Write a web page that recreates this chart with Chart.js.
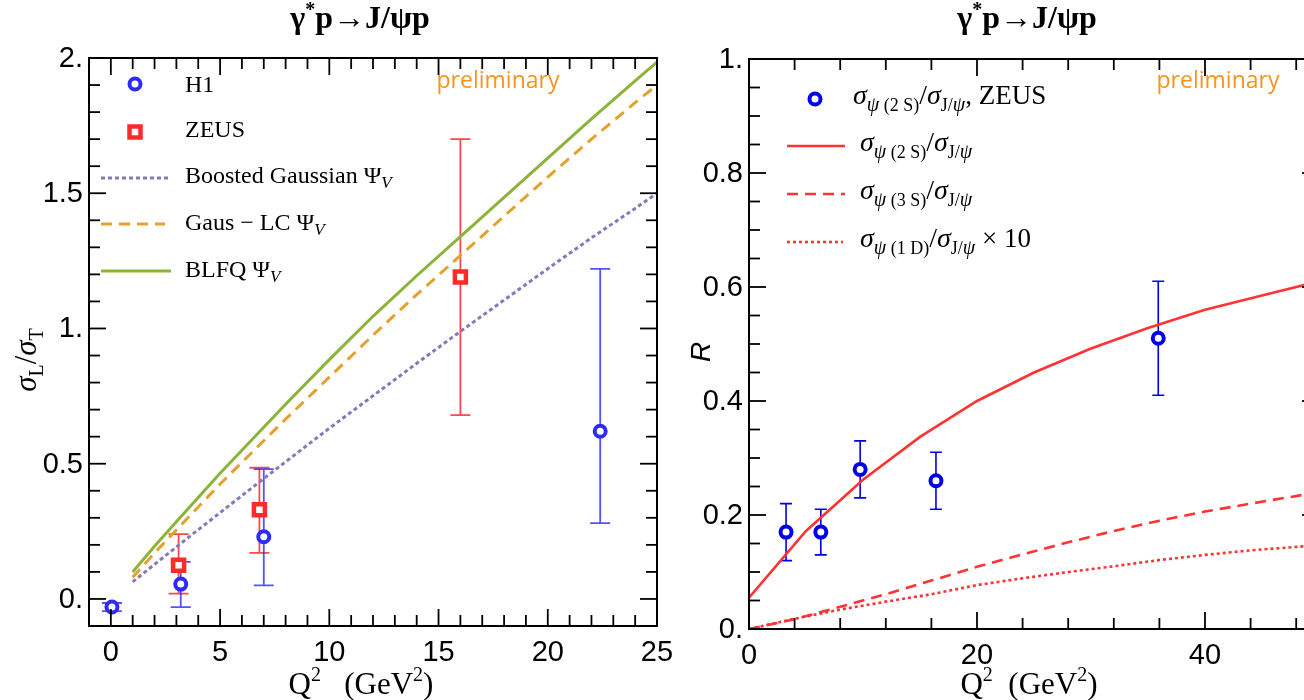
<!DOCTYPE html>
<html>
<head>
<meta charset="utf-8">
<script src="https://cdn.jsdelivr.net/npm/chart.js@4.4.1/dist/chart.umd.min.js"></script>
<style>
  html, body { margin: 0; padding: 0; background: #fff; overflow: hidden; width: 1304px; height: 700px; }
  #left { position: absolute; left: 0; top: 0; }
  #right { position: absolute; left: 680px; top: 0; }
</style>
</head>
<body>
<canvas id="left" width="680" height="700"></canvas>
<canvas id="right" width="680" height="700"></canvas>
<script>
// ---------- sigma_L / sigma_T panel ----------
const h1Q2 = [0.05, 3.2, 7.0, 22.4];
const h1Ratio = [-0.03, 0.055, 0.23, 0.62];
const h1Low = [-0.045, -0.03, 0.05, 0.28];
const h1High = [-0.015, 0.137, 0.48, 1.22];

const zeusQ2 = [3.1, 6.8, 16.0];
const zeusRatio = [0.125, 0.33, 1.19];
const zeusLow = [0.02, 0.17, 0.68];
const zeusHigh = [0.24, 0.485, 1.70];

const modelQ2 = [1, 2, 3, 4, 5, 6, 7, 8, 10, 12, 14, 16, 18, 20, 22, 24, 25];
const boostedGaussian = [0.063, 0.128, 0.192, 0.256, 0.319, 0.382, 0.445, 0.507, 0.631, 0.751, 0.871, 0.989, 1.105, 1.221, 1.335, 1.444, 1.50];
const gausLC = [0.08, 0.17, 0.255, 0.34, 0.425, 0.505, 0.585, 0.665, 0.82, 0.975, 1.125, 1.27, 1.415, 1.56, 1.70, 1.835, 1.90];
const blfq = [0.10, 0.195, 0.285, 0.375, 0.465, 0.55, 0.635, 0.72, 0.885, 1.045, 1.195, 1.34, 1.485, 1.63, 1.775, 1.915, 1.985];

const leftXTicks = [0, 5, 10, 15, 20, 25];
const leftXLabels = ['0', '5', '10', '15', '20', '25'];
const leftYTicks = [0, 0.5, 1, 1.5, 2];
const leftYLabels = ['0.', '0.5', '1.', '1.5', '2.'];

// ---------- psi(nS) / J/psi ratio panel ----------
const psiQ2 = [3.25, 6.3, 9.75, 16.4, 35.9];
const psiRatio = [0.17, 0.17, 0.28, 0.26, 0.51];
const psiErr = [0.05, 0.04, 0.05, 0.05, 0.10];

const curve2SQ2 = [0, 5, 10, 15, 20, 25, 30, 35, 40, 45, 50];
const ratio2S = [0.055, 0.172, 0.262, 0.337, 0.40, 0.45, 0.492, 0.528, 0.56, 0.585, 0.61];

const curveQ2 = [0, 4, 8, 12, 16, 20, 24, 28, 32, 36, 40, 44, 50];
const ratio3S = [0, 0.017, 0.039, 0.061, 0.085, 0.109, 0.131, 0.152, 0.172, 0.19, 0.206, 0.22, 0.24];
const ratio1Dx10 = [0, 0.018, 0.034, 0.048, 0.061, 0.077, 0.089, 0.10, 0.11, 0.121, 0.13, 0.138, 0.147];

const rightXTicks = [0, 20, 40];
const rightXLabels = ['0', '20', '40'];
const rightYTicks = [0, 0.2, 0.4, 0.6, 0.8, 1];
const rightYLabels = ['0.', '0.2', '0.4', '0.6', '0.8', '1.'];

// ---------- styling ----------
const SERIF = '"Liberation Serif","Times New Roman",serif';
const SANS = '"Liberation Sans",Arial,sans-serif';
const H1_BLUE = '#2b2bff';
const ZEUS_RED = '#ff2a2a';
const PSI_BLUE = '#0000ee';
const CURVE_RED = '#ff3333';
const GREEN = '#8cb33a';
const ORANGE = '#e6a02e';
const PURPLE = '#8878b8';
const PRELIM = '#f7941d';

function pts(xs, ys) { return xs.map((x, i) => ({ x: x, y: ys[i] })); }

// draw a run of text pieces: [text, font, baselineShift]
function rich(ctx, x, y, parts, align) {
  let w = 0;
  parts.forEach(p => { ctx.font = p[1]; w += ctx.measureText(p[0]).width; });
  let cx = align === 'center' ? x - w / 2 : (align === 'right' ? x - w : x);
  ctx.textAlign = 'left';
  ctx.textBaseline = 'alphabetic';
  parts.forEach(p => {
    ctx.font = p[1];
    ctx.fillText(p[0], cx, y + (p[2] || 0));
    cx += ctx.measureText(p[0]).width;
  });
}

function minorValues(min, max, step, majors) {
  const out = [];
  const n = Math.round((max - min) / step);
  for (let i = 1; i < n; i++) {
    const v = +(min + i * step).toFixed(6);
    if (!majors.some(m => Math.abs(m - v) < 1e-6)) out.push(v);
  }
  return out;
}

// frame, inward ticks on all four sides, tick labels
function drawFrame(chart, spec) {
  const { ctx, chartArea: a } = chart;
  const xs = chart.scales.x, ys = chart.scales.y;
  ctx.save();
  ctx.strokeStyle = '#000';
  ctx.lineWidth = 2;
  ctx.strokeRect(a.left, a.top, a.right - a.left, a.bottom - a.top);
  ctx.lineWidth = 1.8;
  const seg = (x1, y1, x2, y2) => { ctx.beginPath(); ctx.moveTo(x1, y1); ctx.lineTo(x2, y2); ctx.stroke(); };
  const MAJ = 17, MIN = 11;
  const xMinor = minorValues(xs.min, xs.max, spec.xMinorStep, spec.xTicks);
  const yMinor = minorValues(ys.min, ys.max, spec.yMinorStep, spec.yTicks);
  xMinor.forEach(v => { const p = xs.getPixelForValue(v); seg(p, a.bottom, p, a.bottom - MIN); seg(p, a.top, p, a.top + MIN); });
  spec.xTicks.forEach(v => { const p = xs.getPixelForValue(v); seg(p, a.bottom, p, a.bottom - MAJ); seg(p, a.top, p, a.top + MAJ); });
  yMinor.forEach(v => { const p = ys.getPixelForValue(v); seg(a.left, p, a.left + MIN, p); seg(a.right, p, a.right - MIN, p); });
  spec.yTicks.forEach(v => { const p = ys.getPixelForValue(v); seg(a.left, p, a.left + MAJ, p); seg(a.right, p, a.right - MAJ, p); });

  ctx.fillStyle = '#000';
  ctx.font = '29px ' + SANS;
  ctx.textAlign = 'center';
  ctx.textBaseline = 'top';
  spec.xTicks.forEach((v, i) => ctx.fillText(spec.xLabels[i], xs.getPixelForValue(v), a.bottom + 12));
  ctx.textAlign = 'right';
  ctx.textBaseline = 'middle';
  spec.yTicks.forEach((v, i) => ctx.fillText(spec.yLabels[i], a.left - 6, ys.getPixelForValue(v) + 1));
  ctx.restore();
}

function drawErrorBars(chart, bars) {
  const { ctx, chartArea: a } = chart;
  const xs = chart.scales.x, ys = chart.scales.y;
  ctx.save();
  ctx.beginPath();
  ctx.rect(a.left, a.top, a.right - a.left, a.bottom - a.top);
  ctx.clip();
  bars.forEach(b => {
    ctx.strokeStyle = b.color;
    ctx.lineWidth = b.width;
    b.x.forEach((xv, i) => {
      const px = xs.getPixelForValue(xv);
      const lo = ys.getPixelForValue(b.low[i]);
      const hi = ys.getPixelForValue(b.high[i]);
      ctx.beginPath();
      ctx.moveTo(px, lo); ctx.lineTo(px, hi);
      ctx.moveTo(px - b.cap, lo); ctx.lineTo(px + b.cap, lo);
      ctx.moveTo(px - b.cap, hi); ctx.lineTo(px + b.cap, hi);
      ctx.stroke();
    });
  });
  ctx.restore();
}

function legendLine(ctx, x1, x2, y, color, width, dash) {
  ctx.save();
  ctx.strokeStyle = color;
  ctx.lineWidth = width;
  ctx.setLineDash(dash);
  ctx.beginPath(); ctx.moveTo(x1, y); ctx.lineTo(x2, y); ctx.stroke();
  ctx.restore();
}

function legendCircle(ctx, x, y, color) {
  ctx.save();
  ctx.strokeStyle = color; ctx.lineWidth = 4; ctx.fillStyle = '#fff';
  ctx.beginPath(); ctx.arc(x, y, 5.5, 0, Math.PI * 2); ctx.fill(); ctx.stroke();
  ctx.restore();
}

function legendSquare(ctx, x, y, color) {
  ctx.save();
  ctx.strokeStyle = color; ctx.lineWidth = 4.5; ctx.fillStyle = '#fff';
  ctx.fillRect(x - 5.5, y - 5.5, 11, 11); ctx.strokeRect(x - 5.5, y - 5.5, 11, 11);
  ctx.restore();
}

function titleParts() {
  const B = 'bold 32px ' + SERIF;
  return [['γ', B], ['*', 'bold 20px ' + SERIF, -12], ['p→J/ψp', B]];
}

function q2Parts(gap) {
  const F = '31px ' + SERIF, S = '20px ' + SERIF;
  return [['Q', F], ['2', S, -13], [gap + '(GeV', F], ['2', S, -13], [')', F]];
}

const baseOptions = (xMin, xMax, yMin, yMax, pad) => ({
  responsive: false,
  animation: false,
  layout: { padding: pad },
  plugins: { legend: { display: false }, tooltip: { enabled: false }, title: { display: false } },
  scales: {
    x: { type: 'linear', min: xMin, max: xMax, display: false },
    y: { type: 'linear', min: yMin, max: yMax, display: false }
  }
});

// ---------- left panel ----------
const leftDecor = {
  id: 'leftDecor',
  beforeDatasetsDraw(chart) {
    drawErrorBars(chart, [
      { x: zeusQ2, low: zeusLow, high: zeusHigh, color: 'rgba(255,40,40,0.85)', width: 1.8, cap: 10 },
      { x: h1Q2, low: h1Low, high: h1High, color: 'rgba(40,40,255,0.8)', width: 1.8, cap: 10 }
    ]);
  },
  afterDraw(chart) {
    const ctx = chart.ctx;
    drawFrame(chart, { xTicks: leftXTicks, xLabels: leftXLabels, xMinorStep: 1, yTicks: leftYTicks, yLabels: leftYLabels, yMinorStep: 0.1 });
    ctx.save();
    ctx.fillStyle = '#000';
    rich(ctx, 360, 28, titleParts(), 'center');
    rich(ctx, 361, 694, q2Parts('   '), 'center');
    // vertical axis title
    ctx.save();
    ctx.translate(26, 360);
    ctx.rotate(-Math.PI / 2);
    const F = 'italic 31px ' + SERIF, S = '20px ' + SERIF;
    rich(ctx, 0, 10, [['σ', F], ['L', S, 7], ['/', '31px ' + SERIF], ['σ', F], ['T', S, 7]], 'center');
    ctx.restore();
    // legend
    const T = '24px ' + SERIF, TS = 'italic 17px ' + SERIF;
    legendCircle(ctx, 135, 84, H1_BLUE);
    legendSquare(ctx, 135, 132, ZEUS_RED);
    legendLine(ctx, 101, 171, 178, PURPLE, 3, [4, 3]);
    legendLine(ctx, 101, 165, 224, ORANGE, 3, [11, 7]);
    legendLine(ctx, 101, 171, 271, GREEN, 3, []);
    rich(ctx, 185, 92, [['H1', T]], 'left');
    rich(ctx, 185, 137, [['ZEUS', T]], 'left');
    rich(ctx, 185, 183, [['Boosted Gaussian Ψ', T], ['V', TS, 5]], 'left');
    rich(ctx, 185, 230, [['Gaus − LC Ψ', T], ['V', TS, 5]], 'left');
    rich(ctx, 185, 277, [['BLFQ Ψ', T], ['V', TS, 5]], 'left');
    ctx.fillStyle = PRELIM;
    ctx.font = '23px "Open Sans", sans-serif';
    ctx.textAlign = 'center'; ctx.textBaseline = 'middle';
    ctx.fillText('preliminary', 498, 81);
    ctx.restore();
  }
};

new Chart(document.getElementById('left'), {
  type: 'scatter',
  data: {
    datasets: [
      { label: 'Boosted Gaussian', data: pts(modelQ2, boostedGaussian), showLine: true, pointRadius: 0, borderColor: PURPLE, borderWidth: 3, borderDash: [4, 3], tension: 0 },
      { label: 'Gaus-LC', data: pts(modelQ2, gausLC), showLine: true, pointRadius: 0, borderColor: ORANGE, borderWidth: 3, borderDash: [11, 7], tension: 0 },
      { label: 'BLFQ', data: pts(modelQ2, blfq), showLine: true, pointRadius: 0, borderColor: GREEN, borderWidth: 3, tension: 0 },
      { label: 'ZEUS', data: pts(zeusQ2, zeusRatio), pointStyle: 'rect', pointRadius: 7.8, borderWidth: 4.5, borderColor: ZEUS_RED, backgroundColor: '#fff' },
      { label: 'H1', data: pts(h1Q2, h1Ratio), pointStyle: 'circle', pointRadius: 5.5, borderWidth: 4, borderColor: H1_BLUE, backgroundColor: '#fff' }
    ]
  },
  options: baseOptions(-1, 25, -0.1, 2.0, { left: 89, right: 23, top: 58, bottom: 74 }),
  plugins: [leftDecor]
});

// ---------- right panel ----------
const rightDecor = {
  id: 'rightDecor',
  beforeDatasetsDraw(chart) {
    drawErrorBars(chart, [
      { x: psiQ2, low: psiRatio.map((v, i) => v - psiErr[i]), high: psiRatio.map((v, i) => v + psiErr[i]), color: PSI_BLUE, width: 1.6, cap: 6 }
    ]);
  },
  afterDraw(chart) {
    const ctx = chart.ctx;
    drawFrame(chart, { xTicks: rightXTicks, xLabels: rightXLabels, xMinorStep: 4, yTicks: rightYTicks, yLabels: rightYLabels, yMinorStep: 0.05 });
    ctx.save();
    ctx.fillStyle = '#000';
    rich(ctx, 347, 28, titleParts(), 'center');
    rich(ctx, 349, 694, q2Parts('  '), 'center');
    ctx.save();
    ctx.translate(20, 352);
    ctx.rotate(-Math.PI / 2);
    rich(ctx, 0, 10, [['R', 'italic 28px ' + SANS]], 'center');
    ctx.restore();
    // legend
    const S = 'italic 28px ' + SERIF, U = '28px ' + SERIF, SI = 'italic 20px ' + SERIF, SU = '18px ' + SERIF;
    const ratio = (state) => [['σ', S], ['ψ', SI, 7], [' (' + state + ')', SU, 7], ['/', U], ['σ', S], ['J/', SU, 7], ['ψ', SI, 7]];
    legendCircle(ctx, 135, 99, PSI_BLUE);
    legendLine(ctx, 107, 165, 146, CURVE_RED, 2.6, []);
    legendLine(ctx, 107, 165, 194, CURVE_RED, 2.6, [11, 7]);
    legendLine(ctx, 107, 163, 242, CURVE_RED, 2.6, [3, 3]);
    rich(ctx, 173, 104, ratio('2 S').concat([[', ZEUS', '27px ' + SERIF]]), 'left');
    rich(ctx, 180, 151, ratio('2 S'), 'left');
    rich(ctx, 180, 199, ratio('3 S'), 'left');
    rich(ctx, 180, 247, ratio('1 D').concat([[' × 10', '27px ' + SERIF]]), 'left');
    ctx.fillStyle = PRELIM;
    ctx.font = '23px "Open Sans", sans-serif';
    ctx.textAlign = 'center'; ctx.textBaseline = 'middle';
    ctx.fillText('preliminary', 538, 81);
    ctx.restore();
  }
};

new Chart(document.getElementById('right'), {
  type: 'scatter',
  data: {
    datasets: [
      { label: 'psi(2S)/J/psi', data: pts(curve2SQ2, ratio2S), showLine: true, pointRadius: 0, borderColor: CURVE_RED, borderWidth: 2.6, tension: 0 },
      { label: 'psi(3S)/J/psi', data: pts(curveQ2, ratio3S), showLine: true, pointRadius: 0, borderColor: CURVE_RED, borderWidth: 2.6, borderDash: [11, 7], tension: 0 },
      { label: 'psi(1D)/J/psi x 10', data: pts(curveQ2, ratio1Dx10), showLine: true, pointRadius: 0, borderColor: CURVE_RED, borderWidth: 2.6, borderDash: [3, 3], tension: 0 },
      { label: 'ZEUS', data: pts(psiQ2, psiRatio), pointStyle: 'circle', pointRadius: 5.5, borderWidth: 4, borderColor: PSI_BLUE, backgroundColor: '#fff' }
    ]
  },
  options: baseOptions(0, 50, 0, 1, { left: 69, right: 41, top: 59, bottom: 71 }),
  plugins: [rightDecor]
});
</script>
</body>
</html>
